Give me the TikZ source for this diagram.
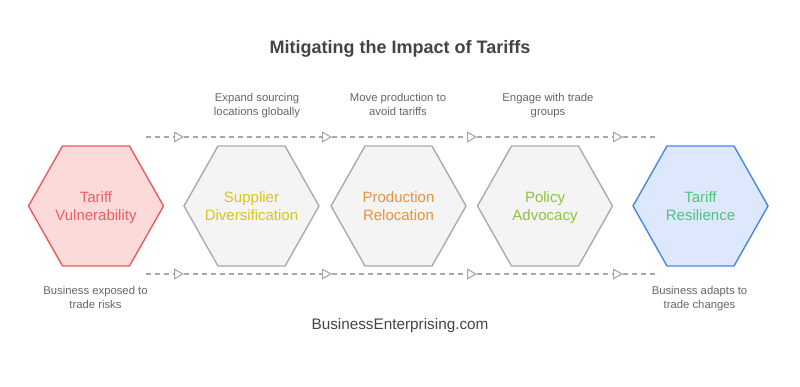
\documentclass[tikz,border=0pt]{standalone}
\usepackage{fontspec}
\setmainfont{Liberation Sans}
\usetikzlibrary{arrows.meta}
\definecolor{redS}{HTML}{E85C5C}
\definecolor{redF}{HTML}{FDDADA}
\definecolor{redT}{HTML}{E8605F}
\definecolor{grayS}{HTML}{ABABAB}
\definecolor{grayF}{HTML}{F4F4F4}
\definecolor{yelT}{HTML}{D9C419}
\definecolor{oraT}{HTML}{E8923D}
\definecolor{grnT}{HTML}{8CC43E}
\definecolor{bluS}{HTML}{4A86E8}
\definecolor{bluF}{HTML}{DDE8FC}
\definecolor{resT}{HTML}{4CC47A}
\definecolor{lblT}{HTML}{666666}
\definecolor{ttlT}{HTML}{444444}
\definecolor{dashC}{HTML}{A8A8A8}
\tikzset{
  hexline/.style={line width=1.4pt, line join=round},
  hextext/.style={align=center, inner sep=0pt, anchor=north, font=\fontsize{15}{18.5}\selectfont},
  lbl/.style={align=center, text=lblT, font=\fontsize{11.3}{14}\selectfont, inner sep=0pt, anchor=north},
  flow/.style={draw=dashC, line width=1.1pt, dash pattern=on 5pt off 4pt,
    -{Triangle[open, length=10pt, width=11pt, fill=white, line width=1.1pt]}},
  flowend/.style={draw=dashC, line width=1.1pt, dash pattern=on 5pt off 4pt}
}
\newcommand{\hexpath}[1]{(#1-67.5,206) -- (#1-33.5,146) -- (#1+33.5,146) -- (#1+67.5,206) -- (#1+33.5,266) -- (#1-33.5,266) -- cycle}
\begin{document}
\begin{tikzpicture}[x=1pt,y=-1pt]
\useasboundingbox (0,0) rectangle (800,386);
\fill[white] (0,0) rectangle (800,386);

\node[text=ttlT, font=\bfseries\fontsize{18}{22}\selectfont] (title) at (400,49) {Mitigating the Impact of Tariffs};

% dashed flow lines
\foreach \r/\yy in {t/137, b/274} {
  \coordinate (\r0) at (146,\yy);
  \coordinate (\r1) at (184,\yy);
  \coordinate (\r2) at (332,\yy);
  \coordinate (\r3) at (477,\yy);
  \coordinate (\r4) at (623,\yy);
  \coordinate (\r5) at (659,\yy);
  \draw[flow] (\r0) -- (\r1);
  \draw[flow] (\r1) -- (\r2);
  \draw[flow] (\r2) -- (\r3);
  \draw[flow] (\r3) -- (\r4);
  \draw[flowend] (\r4) -- (\r5);
}

% hexagons
\draw[hexline, draw=redS, fill=redF] \hexpath{96};
\draw[hexline, draw=grayS, fill=grayF] \hexpath{251.5};
\draw[hexline, draw=grayS, fill=grayF] \hexpath{398.5};
\draw[hexline, draw=grayS, fill=grayF] \hexpath{545};
\draw[hexline, draw=bluS, fill=bluF] \hexpath{700.5};

\node[hextext, text=redT] (h1) at (96,191) {Tariff\\Vulnerability};
\node[hextext, text=yelT] (h2) at (251.5,191) {Supplier\\Diversification};
\node[hextext, text=oraT] (h3) at (398.5,191) {Production\\Relocation};
\node[hextext, text=grnT] (h4) at (545,191) {Policy\\Advocacy};
\node[hextext, text=resT] (h5) at (700.5,191) {Tariff\\Resilience};

% labels
\node[lbl] (l2) at (257,93) {Expand sourcing\\locations globally};
\node[lbl] (l3) at (398,93) {Move production to\\avoid tariffs};
\node[lbl] (l4) at (548,93) {Engage with trade\\groups};
\node[lbl] (l1) at (95.5,286) {Business exposed to\\trade risks};
\node[lbl] (l5) at (699.5,286) {Business adapts to\\trade changes};

\node[text=ttlT, font=\fontsize{15.3}{18}\selectfont] (foot) at (400,326) {BusinessEnterprising.com};
\end{tikzpicture}
\end{document}
